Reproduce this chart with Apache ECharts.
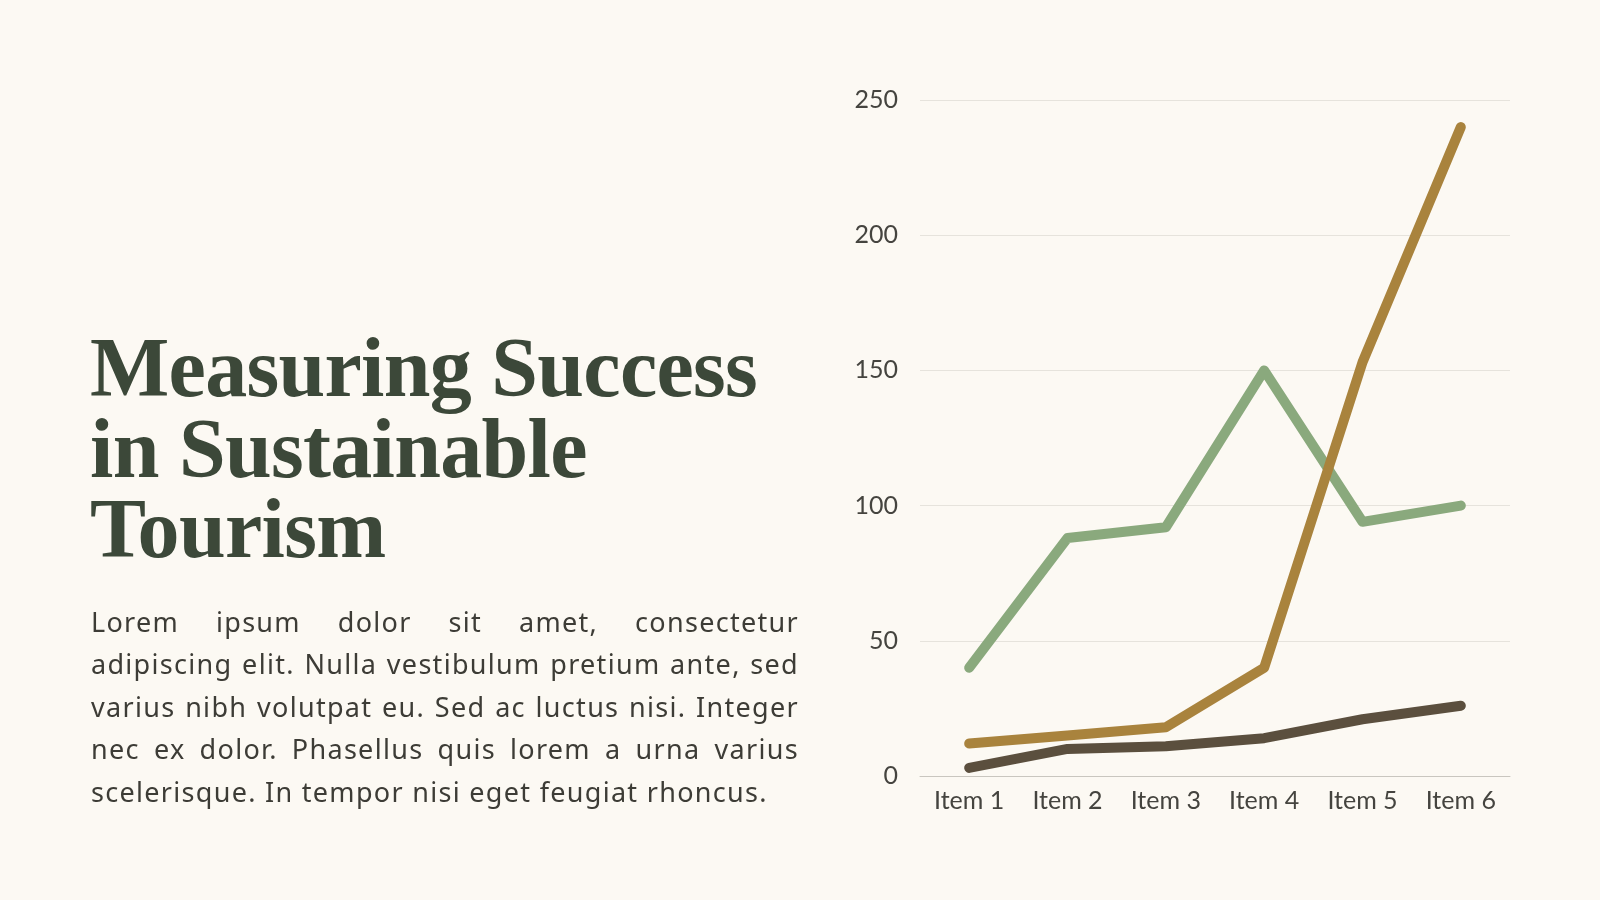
<!DOCTYPE html>
<html>
<head>
<meta charset="utf-8">
<script src="https://cdn.jsdelivr.net/npm/echarts@6/dist/echarts.min.js"></script>
<style>
    html, body {
        margin: 0;
        padding: 0;
        width: 1600px;
        height: 900px;
        background: #fcf9f3;
        overflow: hidden;
    }
    #title {
        position: absolute;
        left: 90px;
        top: 328px;
        margin: 0;
        font-family: "Liberation Serif", "DejaVu Serif", serif;
        font-weight: bold;
        font-size: 84px;
        line-height: 80.5px;
        letter-spacing: -0.7px;
        color: #3c4839;
    }
    #desc {
        position: absolute;
        left: 91px;
        top: 601px;
        width: 708px;
        margin: 0;
        font-family: "Noto Sans", "Open Sans", sans-serif;
        font-size: 27px;
        line-height: 42.4px;
        letter-spacing: 1.3px;
        color: #3d3c36;
    }
    #desc span {
        display: block;
        text-align: justify;
        text-align-last: justify;
        white-space: nowrap;
    }
    #desc span.last {
        text-align-last: left;
    }
    #line_chart {
        position: absolute;
        left: 0;
        top: 0;
        width: 1600px;
        height: 900px;
    }
</style>
</head>
<body>
<div id="line_chart"></div>
<h1 id="title">Measuring Success<br>in Sustainable<br>Tourism</h1>
<p id="desc"><span>Lorem ipsum dolor sit amet, consectetur</span><span>adipiscing elit. Nulla vestibulum pretium ante, sed</span><span>varius nibh volutpat eu. Sed ac luctus nisi. Integer</span><span>nec ex dolor. Phasellus quis lorem a urna varius</span><span class="last">scelerisque. In tempor nisi eget feugiat rhoncus.</span></p>
<script>
    // 数据
    var categories = ["Item 1", "Item 2", "Item 3", "Item 4", "Item 5", "Item 6"];
    var green_data = [40, 88, 92, 150, 94, 100];
    var gold_data = [12, 15, 18, 40, 153, 240];
    var dark_data = [3, 10, 11, 14, 21, 26];
    var y_ticks = [0, 50, 100, 150, 200, 250];

    var chart = echarts.init(document.getElementById("line_chart"));

    function makeLine(name, data, color) {
        return {
            name: name,
            type: "line",
            data: data,
            symbol: "none",
            lineStyle: {
                color: color,
                width: 10,
                cap: "round",
                join: "round"
            },
            itemStyle: { color: color },
            silent: true
        };
    }

    var option = {
        animation: false,
        grid: {
            left: 920,
            right: 90,
            top: 100,
            bottom: 124,
            containLabel: false
        },
        xAxis: {
            type: "category",
            boundaryGap: true,
            data: categories,
            axisLine: {
                lineStyle: { color: "#c9c6bf", width: 1 }
            },
            axisTick: { show: false },
            axisLabel: {
                margin: 12,
                fontFamily: "Lato, 'Noto Sans', sans-serif",
                fontSize: 25,
                color: "#45443f"
            }
        },
        yAxis: {
            type: "value",
            min: y_ticks[0],
            max: y_ticks[y_ticks.length - 1],
            interval: 50,
            axisLine: { show: false },
            axisTick: { show: false },
            splitLine: {
                lineStyle: { color: "#e6e3dc", width: 1 }
            },
            axisLabel: {
                margin: 22,
                fontFamily: "Lato, 'Noto Sans', sans-serif",
                fontSize: 25,
                color: "#45443f"
            }
        },
        series: [
            makeLine("Series 1", green_data, "#8aa97d"),
            makeLine("Series 2", gold_data, "#a9833d"),
            makeLine("Series 3", dark_data, "#5b4f3e")
        ]
    };
    chart.setOption(option);
</script>
</body>
</html>
